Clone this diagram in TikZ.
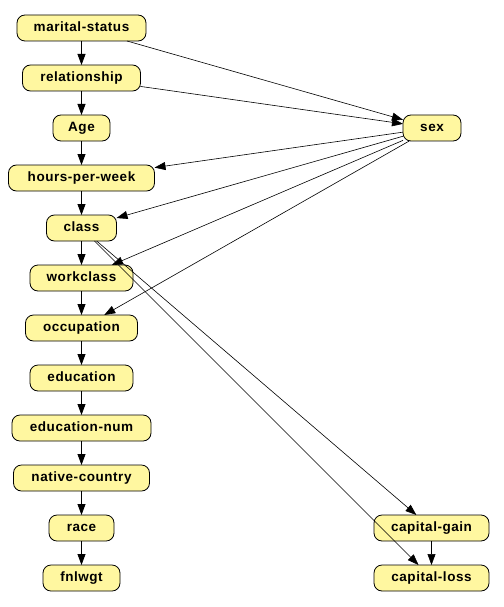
\documentclass[tikz,border=0pt]{standalone}
\usepackage{fontspec}
\setmainfont{Liberation Sans}[LetterSpace=4]
\usetikzlibrary{arrows.meta,positioning}
\definecolor{nodeyellow}{RGB}{255,247,160}

\begin{document}
\begin{tikzpicture}[
  x=1bp, y=-1bp,
  >={Triangle[length=11bp,width=8bp]},
  every node/.style={font=\fontsize{13.5bp}{16bp}\selectfont\bfseries},
  var/.style={draw, line width=0.8bp, rounded corners=8bp, fill=nodeyellow, minimum height=26bp, minimum width=#1, inner xsep=4bp, inner ysep=0pt, outer sep=0pt, text height=10bp, text depth=3bp},
  node distance=24bp
]
\useasboundingbox (0,0) rectangle (504,607);
\node[var=129bp] (ms) at (81.5,28) {marital-status};
\node[var=118bp, below=of ms] (rel) {relationship};
\node[var=57bp, below=of rel] (age) {Age};
\node[var=146bp, below=of age] (hpw) {hours-per-week};
\node[var=70bp, below=of hpw] (cls) {class};
\node[var=103bp, below=of cls] (wc) {workclass};
\node[var=112bp, below=of wc] (occ) {occupation};
\node[var=103bp, below=of occ] (edu) {education};
\node[var=139bp, below=of edu] (edn) {education-num};
\node[var=136bp, below=of edn] (nc) {native-country};
\node[var=65bp, below=of nc] (race) {race};
\node[var=77bp, below=of race] (fn) {fnlwgt};
\node[var=58bp] (sex) at (432,128) {sex};
\node[var=115bp] (cg) at (431.5,528) {capital-gain};
\node[var=115bp, below=of cg] (cl) {capital-loss};
% chain down the left column
\foreach \a/\b in {ms/rel,rel/age,age/hpw,hpw/cls,cls/wc,wc/occ,occ/edu,edu/edn,edn/nc,nc/race,race/fn}{\draw[->, line width=0.8bp] (\a) -- (\b);}
% cross links
\foreach \a/\b in {ms/sex,rel/sex,sex/hpw,sex/cls,sex/wc,sex/occ,cls/cg,cls/cl,cg/cl}{\draw[->, line width=0.6bp] (\a) -- (\b);}
\end{tikzpicture}
\end{document}
